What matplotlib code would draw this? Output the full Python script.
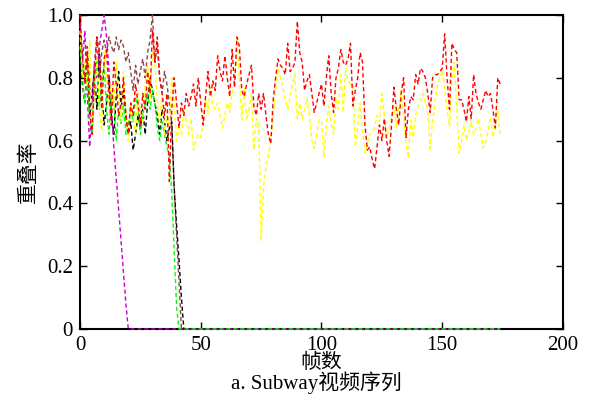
import numpy as np
import matplotlib
matplotlib.use("Agg")
import matplotlib.pyplot as plt

plt.rcParams['font.family'] = ['Liberation Serif', 'Noto Sans CJK SC']

n_frames = 175

# overlap per frame for each tracker (frames 0..174)
red = [1.00, 0.87, 0.78, 0.88, 0.70, 0.62, 0.80, 0.93, 0.88, 0.70,
       0.86, 0.89, 0.75, 0.65, 0.85, 0.78, 0.68, 0.72, 0.80, 0.68,
       0.62, 0.72, 0.68, 0.78, 0.72, 0.65, 0.75, 0.70, 0.82, 0.75,
       0.95, 0.85, 0.93, 0.80, 0.75, 0.68, 0.75, 0.47, 0.70, 0.80,
       0.72, 0.64, 0.72, 0.68, 0.75, 0.71, 0.74, 0.78, 0.71, 0.80,
       0.72, 0.65, 0.74, 0.82, 0.74, 0.79, 0.76, 0.87, 0.82, 0.79,
       0.87, 0.80, 0.74, 0.89, 0.77, 0.93, 0.90, 0.76, 0.74, 0.78,
       0.81, 0.84, 0.71, 0.68, 0.75, 0.70, 0.75, 0.68, 0.62, 0.59,
       0.73, 0.80, 0.86, 0.84, 0.83, 0.81, 0.91, 0.82, 0.83, 0.85,
       0.98, 0.88, 0.85, 0.76, 0.79, 0.81, 0.75, 0.69, 0.72, 0.75,
       0.78, 0.71, 0.80, 0.87, 0.75, 0.69, 0.80, 0.83, 0.89, 0.85,
       0.84, 0.86, 0.91, 0.71, 0.76, 0.80, 0.88, 0.85, 0.65, 0.57,
       0.58, 0.54, 0.51, 0.58, 0.65, 0.60, 0.67, 0.60, 0.55, 0.65,
       0.77, 0.70, 0.65, 0.75, 0.80, 0.61, 0.70, 0.74, 0.73, 0.81,
       0.78, 0.83, 0.82, 0.80, 0.75, 0.69, 0.80, 0.81, 0.81, 0.82,
       0.83, 0.94, 0.80, 0.70, 0.91, 0.89, 0.88, 0.73, 0.73, 0.70,
       0.66, 0.74, 0.67, 0.81, 0.75, 0.72, 0.70, 0.73, 0.76, 0.74,
       0.75, 0.70, 0.64, 0.80, 0.78]

yellow = [0.95, 0.80, 0.85, 0.78, 0.92, 0.65, 0.75, 0.86, 0.70, 0.63,
          0.88, 0.80, 0.72, 0.78, 0.70, 0.85, 0.75, 0.66, 0.82, 0.70,
          0.60, 0.72, 0.68, 0.62, 0.75, 0.70, 0.66, 0.78, 0.84, 0.73,
          0.88, 0.85, 0.72, 0.66, 0.75, 0.62, 0.68, 0.65, 0.80, 0.72,
          0.60, 0.64, 0.62, 0.70, 0.66, 0.62, 0.67, 0.57, 0.60, 0.62,
          0.61, 0.66, 0.73, 0.69, 0.77, 0.71, 0.70, 0.72, 0.68, 0.64,
          0.68, 0.72, 0.69, 0.75, 0.79, 0.93, 0.80, 0.665, 0.77, 0.665,
          0.70, 0.75, 0.57, 0.67, 0.66, 0.28, 0.45, 0.52, 0.55, 0.60,
          0.68, 0.76, 0.83, 0.80, 0.77, 0.73, 0.70, 0.74, 0.78, 0.81,
          0.67, 0.72, 0.67, 0.70, 0.735, 0.68, 0.60, 0.575, 0.62, 0.665,
          0.665, 0.55, 0.65, 0.71, 0.66, 0.62, 0.735, 0.70, 0.81, 0.69,
          0.83, 0.79, 0.78, 0.78, 0.58, 0.65, 0.72, 0.63, 0.56, 0.59,
          0.62, 0.63, 0.64, 0.68, 0.66, 0.75, 0.68, 0.61, 0.64, 0.67,
          0.71, 0.64, 0.70, 0.76, 0.68, 0.59, 0.545, 0.665, 0.61, 0.68,
          0.71, 0.72, 0.75, 0.72, 0.70, 0.575, 0.66, 0.72, 0.78, 0.80,
          0.825, 0.77, 0.70, 0.645, 0.80, 0.85, 0.70, 0.56, 0.60, 0.65,
          0.60, 0.63, 0.66, 0.62, 0.64, 0.67, 0.62, 0.575, 0.60, 0.63,
          0.675, 0.61, 0.66, 0.70, 0.61]

# trackers that lose the target; zero for the rest of the sequence
brown = [0.95, 0.85, 0.80, 0.90, 0.78, 0.72, 0.85, 0.93, 0.80, 0.88,
         0.92, 0.88, 0.93, 0.90, 0.88, 0.93, 0.89, 0.92, 0.90, 0.85,
         0.88, 0.82, 0.76, 0.84, 0.78, 0.82, 0.86, 0.80, 0.88, 0.92,
         1.00, 0.85, 0.90, 0.80, 0.75, 0.82, 0.78, 0.72, 0.65, 0.45,
         0.30, 0.15, 0.0]
black = [0.90, 0.78, 0.72, 0.85, 0.68, 0.75, 0.82, 0.70, 0.88, 0.75,
         0.65, 0.72, 0.80, 0.68, 0.62, 0.74, 0.82, 0.70, 0.76, 0.68,
         0.62, 0.66, 0.57, 0.62, 0.68, 0.64, 0.70, 0.62, 0.72, 0.80,
         0.76, 0.72, 0.68, 0.62, 0.70, 0.66, 0.60, 0.64, 0.66, 0.45,
         0.33, 0.22, 0.10, 0.0]
magenta = [0.97, 0.85, 0.95, 0.75, 0.58, 0.72, 0.85, 0.80, 0.90, 0.95,
           1.00, 0.93, 0.82, 0.70, 0.58, 0.48, 0.38, 0.28, 0.18, 0.08,
           0.0]
green = [0.90, 0.80, 0.72, 0.82, 0.65, 0.62, 0.80, 0.85, 0.70, 0.78,
         0.85, 0.70, 0.62, 0.75, 0.72, 0.60, 0.70, 0.65, 0.72, 0.62,
         0.65, 0.70, 0.66, 0.74, 0.70, 0.62, 0.68, 0.72, 0.75, 0.70,
         0.76, 0.72, 0.64, 0.60, 0.66, 0.62, 0.58, 0.55, 0.43, 0.25,
         0.07, 0.0]


def pad(values):
    return np.array(values + [0.0] * (n_frames - len(values)))


frames = np.arange(n_frames)

fig = plt.figure(figsize=(5.9, 4.0), dpi=100)
ax = fig.add_axes([0.1356, 0.1775, 0.8186, 0.785])

dash = (0, (3, 2))
series = [
    (pad(brown), '#8b4a4a'),
    (pad(black), '#000000'),
    (pad(magenta), '#cc00cc'),
    (pad(green), '#00ff00'),
    (np.array(yellow), '#ffff00'),
    (np.array(red), '#ff0000'),
]
for values, color in series:
    ax.plot(frames, values, linestyle=dash, color=color, linewidth=1.0,
            clip_on=False, zorder=3)

ax.set_xlim(0, 200)
ax.set_ylim(0, 1.0)
ax.set_xticks([0, 50, 100, 150, 200])
ax.set_yticks([0, 0.2, 0.4, 0.6, 0.8, 1.0])
ax.set_yticklabels(['0', '0.2', '0.4', '0.6', '0.8', '1.0'])
ax.tick_params(direction='in', top=True, right=True, length=5,
               width=1.0, labelsize=15, pad=5)
for s in ax.spines.values():
    s.set_linewidth(1.5)

ax.set_xlabel('帧数', fontsize=15, labelpad=-1)
ax.set_ylabel('重叠率', fontsize=15, labelpad=6)
fig.text(0.537, 0.0425, 'a. Subway视频序列', ha='center', va='center',
         fontsize=15)

fig.savefig('out.png', dpi=100)
